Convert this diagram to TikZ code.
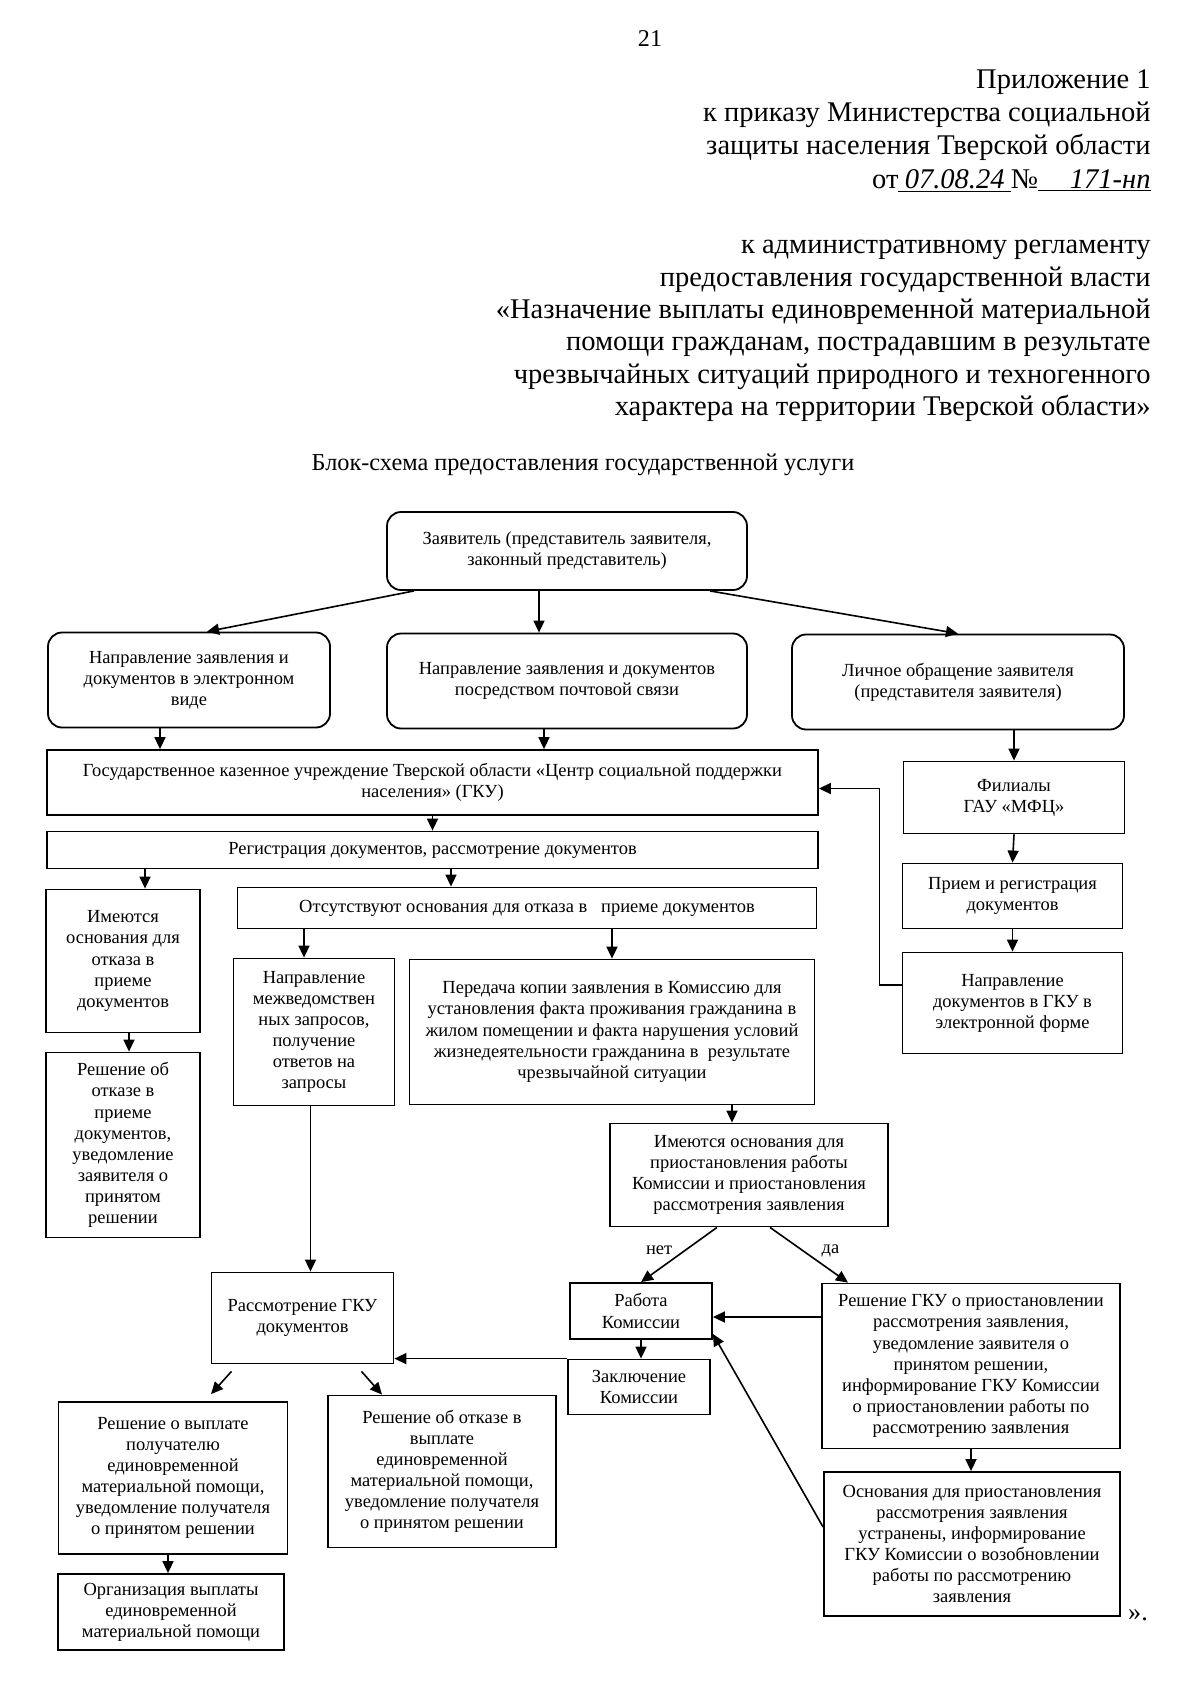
\documentclass[tikz,border=0pt]{standalone}
\usepackage{fontspec}
\setmainfont{Liberation Serif}
\usepackage{tikz}
\usetikzlibrary{positioning, arrows, arrows.meta}

\newdimen\pxu
\pxu=0.0175cm

\tikzset{
  blk/.style={draw, line width=0.9pt, align=center, inner sep=1pt, font=\fontsize{9.2}{10.5}\selectfont},
  rblk/.style={blk, rounded corners=7pt},
  lnk/.style={line width=0.8pt, -{Triangle[length=6pt, width=5.5pt]}},
  hdr/.style={anchor=base east, inner sep=0pt, font=\fontsize{14.2}{16}\selectfont},
  lbl/.style={inner sep=1pt, font=\fontsize{9.2}{10.5}\selectfont}
}

\begin{document}
\begin{tikzpicture}[x=0.0175cm, y=-0.0175cm]
\useasboundingbox (0,0) rectangle (1200,1703);

% --- Page number and heading ---
\node[anchor=base, inner sep=0pt, font=\fontsize{12}{14}\selectfont] (pg) at (650,46) {21};
\node[hdr] (h1) at (1151,88) {Приложение 1};
\node[hdr] (h2) at (1151,121) {к приказу Министерства социальной};
\node[hdr] (h3) at (1151,154) {защиты населения Тверской области};
\node[hdr] (h4) at (1151,188) {от\underline{\makebox[56pt]{\textit{07.08.24}}}№\underline{\makebox[56pt][r]{\textit{171-нп}}}};

\node[hdr] (r1) at (1151,253) {к административному регламенту};
\node[hdr] (r2) at (1151,286) {предоставления государственной власти};
\node[hdr] (r3) at (1151,318) {«Назначение выплаты единовременной материальной};
\node[hdr] (r4) at (1151,350) {помощи гражданам, пострадавшим в результате};
\node[hdr] (r5) at (1151,383) {чрезвычайных ситуаций природного и техногенного};
\node[hdr] (r6) at (1151,415) {характера на территории Тверской области»};

\node[anchor=base, inner sep=0pt, font=\fontsize{12.1}{14}\selectfont] (ttl) at (583,470) {Блок-схема предоставления государственной услуги};

% --- Applicant and ways of applying ---
\node[rblk, minimum width=360\pxu, minimum height=78\pxu] (zay) at (567,551) {Заявитель (представитель заявителя,\\ законный представитель)};
\node[rblk, minimum width=282\pxu, minimum height=95\pxu] (elec) at (189,680) {Направление заявления и\\ документов в электронном\\ виде};
\node[rblk, minimum width=360\pxu, minimum height=95\pxu] (post) at (567,681) {Направление заявления и документов\\ посредством почтовой связи};
\node[rblk, minimum width=332\pxu, minimum height=95\pxu] (pers) at (958,682) {Личное обращение заявителя\\ (представителя заявителя)};

% --- GKU column ---
\node[blk, minimum width=771\pxu, minimum height=65\pxu] (gku) at (432.5,782.5) {Государственное казенное учреждение Тверской области «Центр социальной поддержки\\ населения» (ГКУ)};
\node[blk, minimum width=771\pxu, minimum height=37\pxu] (reg) at (432.5,850) {Регистрация документов, рассмотрение документов};
\node[blk, minimum width=154\pxu, minimum height=143\pxu] (otk) at (123,961) {Имеются\\ основания для\\ отказа в\\ приеме\\ документов};
\node[blk, minimum width=154\pxu, minimum height=185\pxu] (otkr) at (123,1145) {Решение об\\ отказе в\\ приеме\\ документов,\\ уведомление\\ заявителя о\\ принятом\\ решении};
\node[blk, minimum width=579\pxu, minimum height=41\pxu] (net) at (527,908) {Отсутствуют основания для отказа в\ \ \ приеме документов};
\node[blk, minimum width=161\pxu, minimum height=147\pxu] (mezh) at (314,1032) {Направление\\ межведомствен\\ ных запросов,\\ получение\\ ответов на\\ запросы};
\node[blk, minimum width=405\pxu, minimum height=145\pxu] (pered) at (612,1032) {Передача копии заявления в Комиссию для\\ установления факта проживания гражданина в\\ жилом помещении и факта нарушения условий\\ жизнедеятельности гражданина в\ \ результате\\ чрезвычайной ситуации};

% --- MFC column ---
\node[blk, minimum width=221\pxu, minimum height=72\pxu] (fil) at (1014,797.5) {Филиалы\\ ГАУ «МФЦ»};
\node[blk, minimum width=220\pxu, minimum height=65\pxu] (priem) at (1012.5,896) {Прием и регистрация\\ документов};
\node[blk, minimum width=220\pxu, minimum height=101\pxu] (napr) at (1012.5,1003) {Направление\\ документов в ГКУ в\\ электронной форме};

% --- Commission ---
\node[blk, minimum width=278\pxu, minimum height=103\pxu] (osn) at (749,1175) {Имеются основания для\\ приостановления работы\\ Комиссии и приостановления\\ рассмотрения заявления};
\node[blk, minimum width=142\pxu, minimum height=56\pxu] (rab) at (641,1311) {Работа\\ Комиссии};
\node[blk, minimum width=142\pxu, minimum height=55\pxu] (zakl) at (639,1387) {Заключение\\ Комиссии};
\node[blk, minimum width=298\pxu, minimum height=165\pxu] (resh) at (971,1366) {Решение ГКУ о приостановлении\\ рассмотрения заявления,\\ уведомление заявителя о\\ принятом решении,\\ информирование ГКУ Комиссии\\ о приостановлении работы по\\ рассмотрению заявления};
\node[blk, minimum width=296\pxu, minimum height=144\pxu] (ustr) at (972,1544) {Основания для приостановления\\ рассмотрения заявления\\ устранены, информирование\\ ГКУ Комиссии о возобновлении\\ работы по рассмотрению\\ заявления};

% --- Decision ---
\node[blk, minimum width=182\pxu, minimum height=91\pxu] (rass) at (302.5,1318) {Рассмотрение ГКУ\\ документов};
\node[blk, minimum width=229\pxu, minimum height=152\pxu] (vypl) at (173,1478) {Решение о выплате\\ получателю\\ единовременной\\ материальной помощи,\\ уведомление получателя\\ о принятом решении};
\node[blk, minimum width=228\pxu, minimum height=152\pxu] (otkv) at (442,1471.5) {Решение об отказе в\\ выплате\\ единовременной\\ материальной помощи,\\ уведомление получателя\\ о принятом решении};
\node[blk, minimum width=226\pxu, minimum height=76\pxu] (org) at (171,1612) {Организация выплаты\\ единовременной\\ материальной помощи};

\node[inner sep=0pt, font=\fontsize{13}{15}\selectfont] (qend) at (1138,1615) {».};

% --- Connectors ---
\draw[lnk] ([xshift=28\pxu]zay.south west) -- ([xshift=18\pxu]elec.north);
\draw[lnk] ([xshift=-28\pxu]zay.south) -- ([xshift=-28\pxu]zay.south |- post.north);
\draw[lnk] ([xshift=-38\pxu]zay.south east) -- (pers.north);

\draw[lnk] ([xshift=-29\pxu]elec.south) -- ([xshift=-29\pxu]elec.south |- gku.north);
\draw[lnk] ([xshift=-23\pxu]post.south) -- ([xshift=-23\pxu]post.south |- gku.north);
\draw[lnk] (gku.south) -- (reg.north);

\draw[lnk] ([xshift=22\pxu]otk.north |- reg.south) -- ([xshift=22\pxu]otk.north);
\draw[lnk] ([xshift=-76\pxu]net.north |- reg.south) -- ([xshift=-76\pxu]net.north);
\draw[lnk] ([xshift=6\pxu]otk.south) -- ([xshift=6\pxu]otk.south |- otkr.north);
\draw[lnk] ([xshift=-10\pxu]mezh.north |- net.south) -- ([xshift=-10\pxu]mezh.north);
\draw[lnk] (pered.north |- net.south) -- (pered.north);

\draw[lnk] (pers.south -| fil.north) -- (fil.north);
\draw[lnk] (fil.south) -- (priem.north);
\draw[lnk] (priem.south) -- (napr.north);
\draw[lnk] ([yshift=18\pxu]napr.west) -- ++(-22,0) |- ([yshift=-6\pxu]gku.east);

\draw[lnk] ([xshift=8\pxu]rass.north |- mezh.south) -- ([xshift=8\pxu]rass.north);
\draw[lnk] ([xshift=-17\pxu]osn.north |- pered.south) -- ([xshift=-17\pxu]osn.north);

\draw[lnk] ([xshift=-32\pxu]osn.south) -- (rab.north) node[lbl, pos=0.42, left=5pt] {нет};
\draw[lnk] ([xshift=21\pxu]osn.south) -- ([xshift=-123\pxu]resh.north) node[lbl, pos=0.42, right=8pt] {да};
\draw[lnk] (rab.south) -- (rab.south |- zakl.north);
\draw[lnk] ([yshift=49\pxu]resh.west) -- ([yshift=49\pxu]resh.west -| rab.east);
\draw[lnk] (resh.south) -- (resh.south |- ustr.north);
\draw[lnk] ([yshift=17\pxu]ustr.west) -- ([yshift=6\pxu]rab.south east);
\draw[lnk] (zakl.north west) -- (zakl.north west -| rass.east);

\draw[lnk] ([xshift=-71\pxu, yshift=-7\pxu]rass.south) -- ([xshift=38\pxu, yshift=7\pxu]vypl.north);
\draw[lnk] ([xshift=59\pxu, yshift=-7\pxu]rass.south) -- ([xshift=-60\pxu]otkv.north);
\draw[lnk] ([xshift=-5\pxu]vypl.south) -- ([xshift=-5\pxu]vypl.south |- org.north);

\end{tikzpicture}
\end{document}
